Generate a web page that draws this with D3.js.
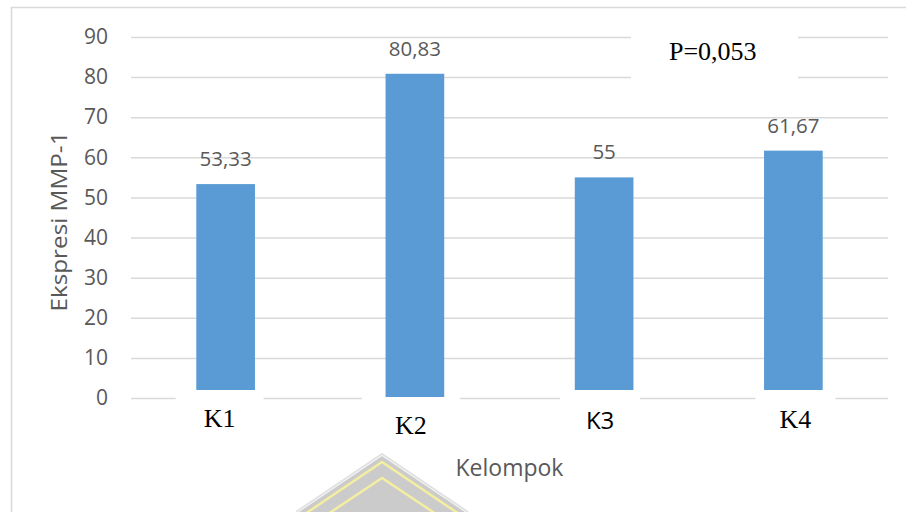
<!DOCTYPE html>
<html>
<head>
<meta charset="utf-8">
<script src="https://cdn.jsdelivr.net/npm/d3@7"></script>
<style>
  html, body { margin: 0; padding: 0; background: #fff; }
  svg { display: block; }
</style>
</head>
<body>
<div id="chart"></div>
<script>
const categories = ['K1', 'K2', 'K3', 'K4'];
const values = [53.33, 80.83, 55, 61.67];
const valueLabels = ['53,33', '80,83', '55', '61,67'];
const yTicks = [0, 10, 20, 30, 40, 50, 60, 70, 80, 90];
const pLabel = 'P=0,053';

const W = 906, H = 512;
const PLOT = { left: 131, right: 888, top: 37, bottom: 398 };
const GRID = '#d9d9d9';
const TEXT = '#595959';
const SANS = '"Open Sans", sans-serif';
const SERIF = '"Liberation Serif", "Times New Roman", serif';

// the category labels are pasted text boxes, each slightly off center
const labelBoxes = [
    { dx: -6, top: 390, font: SERIF, size: 26, base: 427, half: 44 },
    { dx: -4, top: 397, font: SERIF, size: 26, base: 434, half: 49 },
    { dx: -4, top: 390, font: SANS, size: 24, base: 429, half: 40 },
    { dx: 2, top: 390, font: SERIF, size: 26, base: 428, half: 40 },
];

const svg = d3.select('#chart').append('svg').attr('width', W).attr('height', H);

svg.append('rect').attr('width', W).attr('height', H).attr('fill', '#fff');

// chart area border
svg.append('path')
    .attr('d', `M11.5,${H}V7.5H${W}`)
    .attr('fill', 'none')
    .attr('stroke', GRID)
    .attr('stroke-width', 1.5);

const x = d3.scaleBand()
    .domain(categories)
    .range([PLOT.left, PLOT.right])
    .paddingInner(0.69)
    .paddingOuter(0.345);

const y = d3.scaleLinear().domain([0, 90]).range([PLOT.bottom, PLOT.top]);

const yAxis = svg.append('g')
    .attr('transform', `translate(${PLOT.left},0)`)
    .call(d3.axisLeft(y).tickValues(yTicks).tickSize(-(PLOT.right - PLOT.left)).tickPadding(23));
yAxis.select('.domain').remove();
yAxis.selectAll('.tick line').attr('stroke', GRID).attr('stroke-width', 1.5);
yAxis.selectAll('.tick text')
    .attr('fill', TEXT)
    .style('font-family', SANS)
    .style('font-size', '21px');

svg.append('g')
    .selectAll('rect')
    .data(values)
    .join('rect')
    .attr('x', (d, i) => x(categories[i]))
    .attr('y', (d) => y(d))
    .attr('width', x.bandwidth())
    .attr('height', (d) => y(0) - y(d))
    .attr('fill', '#5b9bd5');

svg.append('g')
    .selectAll('text')
    .data(values)
    .join('text')
    .attr('x', (d, i) => x(categories[i]) + x.bandwidth() / 2)
    .attr('y', (d) => y(d) - 18)
    .attr('text-anchor', 'middle')
    .attr('fill', TEXT)
    .style('font-family', SANS)
    .style('font-size', '20.5px')
    .text((d, i) => valueLabels[i]);

// category text boxes (white background covers bar feet and baseline)
const boxG = svg.append('g');
categories.forEach((c, i) => {
    const b = labelBoxes[i];
    const cx = x(c) + x.bandwidth() / 2 + b.dx;
    boxG.append('rect')
        .attr('x', cx - b.half)
        .attr('y', b.top)
        .attr('width', b.half * 2)
        .attr('height', 48)
        .attr('fill', '#fff');
    boxG.append('text')
        .attr('x', cx)
        .attr('y', b.base)
        .attr('text-anchor', 'middle')
        .attr('fill', '#000')
        .style('font-family', b.font)
        .style('font-size', b.size + 'px')
        .text(c);
});

// p value box
svg.append('rect').attr('x', 631).attr('y', 28).attr('width', 167).attr('height', 62).attr('fill', '#fff');
svg.append('text')
    .attr('x', 669)
    .attr('y', 60)
    .attr('fill', '#000')
    .style('font-family', SERIF)
    .style('font-size', '26px')
    .text(pLabel);

svg.append('text')
    .attr('transform', `translate(67,${(PLOT.top + PLOT.bottom) / 2 + 4}) rotate(-90)`)
    .attr('text-anchor', 'middle')
    .attr('fill', TEXT)
    .attr('textLength', 180)
    .attr('lengthAdjust', 'spacingAndGlyphs')
    .style('font-family', SANS)
    .style('font-size', '21px')
    .text('Ekspresi MMP-1');

svg.append('text')
    .attr('x', (PLOT.left + PLOT.right) / 2)
    .attr('y', 476)
    .attr('text-anchor', 'middle')
    .attr('fill', TEXT)
    .style('font-family', SANS)
    .style('font-size', '23px')
    .text('Kelompok');

// faint logo watermark peeking in at the bottom
const wm = svg.append('g').attr('transform', 'translate(382,456)');
wm.append('path').attr('d', 'M0,0L-86,58L86,58Z').attr('fill', '#cbcbcb');
wm.append('path').attr('d', 'M-86,56L0,-2L86,56').attr('fill', 'none').attr('stroke', '#e2e2e2').attr('stroke-width', 2);
wm.append('path').attr('d', 'M-80,60L0,6L80,60').attr('fill', 'none').attr('stroke', '#f3eea0').attr('stroke-width', 2.5);
wm.append('path').attr('d', 'M-60,62L0,22L60,62').attr('fill', 'none').attr('stroke', '#f3eea0').attr('stroke-width', 2.5);
</script>
</body>
</html>
